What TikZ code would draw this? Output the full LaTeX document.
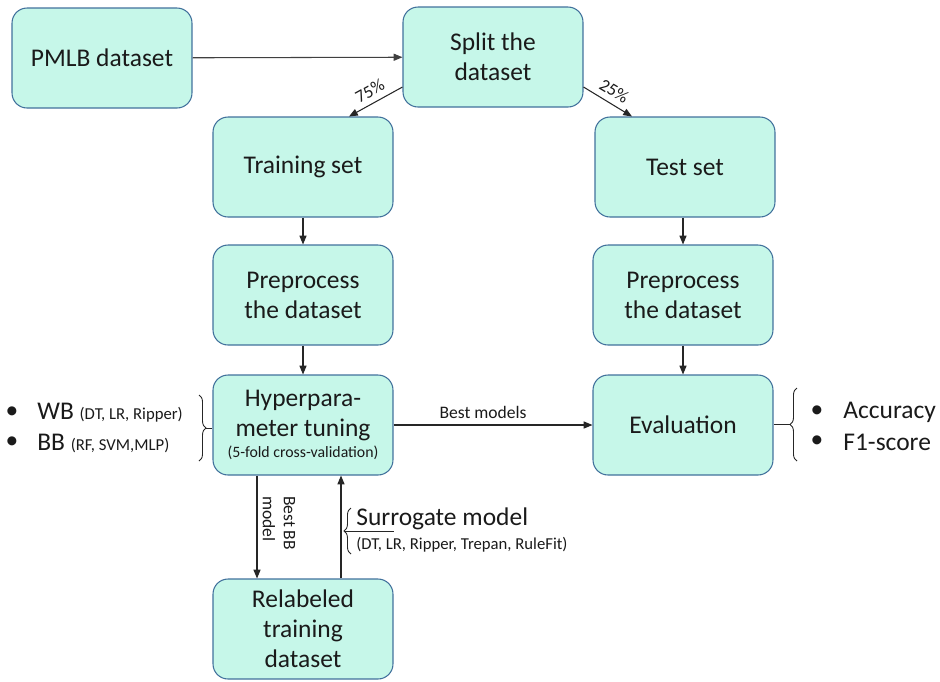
\documentclass[tikz,border=0pt]{standalone}
\usepackage{fontspec}
\setmainfont{Carlito}
\usetikzlibrary{arrows.meta,decorations.pathreplacing}
\definecolor{boxfill}{HTML}{C6F7E9}
\definecolor{boxline}{HTML}{41719C}
\definecolor{ink}{HTML}{1A1A1A}
\definecolor{arrowc}{HTML}{262626}

\begin{document}
\begin{tikzpicture}[
        x=0.02cm, y=-0.02cm,
        font=\fontsize{14.5}{17}\selectfont,
        text=ink
    ]
    \tikzset{
        box/.style = {rectangle, rounded corners=0.3cm, draw=boxline, fill=boxfill, line width=0.6pt,
                      minimum width=3.6cm, minimum height=2cm, align=center, inner sep=2pt},
        arr/.style = {-{Triangle[length=5pt,width=4pt]}, draw=arrowc, line width=0.6pt},
        lbl/.style = {font=\fontsize{10}{12}\selectfont},
        small/.style = {font=\fontsize{9.5}{11}\selectfont},
        brc/.style = {decorate, decoration={brace,amplitude=4pt}, draw=arrowc, line width=0.5pt},
    }
    \useasboundingbox (0,0) rectangle (940,681);
    % boxes
    \node[box] (pmlb) at (102,58) {PMLB dataset};
    \node[box] (split) at (493,57) {Split the\\dataset};
    \node[box] (train) at (303,167) {Training set};
    \node[box] (test) at (685,167) {Test set};
    \node[box] (prel) at (303,295) {Preprocess\\the dataset};
    \node[box] (prer) at (683,295) {Preprocess\\the dataset};
    \node[box] (hyper) at (303,425) {Hyperpara-\\meter tuning\\[-5pt]{\fontsize{9}{11}\selectfont (5-fold cross-validation)}};
    \node[box] (eval) at (683,425) {Evaluation};
    \node[box] (relab) at (303,629) {Relabeled\\training\\dataset};
    %
    \draw[arr, draw=gray!50!black] (pmlb) -- (split);
    \draw[arr] ([yshift=-0.6cm]split.west) -- node[lbl,above=0pt,sloped] {75\%} ([xshift=0.92cm]train.north);
    \draw[arr] ([yshift=-0.6cm]split.east) -- node[lbl,above=0pt,sloped] {25\%} ([xshift=-1.06cm]test.north);
    \draw[arr] (train) -- (prel);
    \draw[arr] (prel) -- (hyper);
    \draw[arr] (test.south -| prer) -- (prer);
    \draw[arr] (prer) -- (eval);
    \draw[arr] (hyper) -- node[lbl,above,pos=0.45] {Best models} (eval);
    %
    \draw[arr] ([xshift=-0.92cm]hyper.south) -- ([xshift=-0.92cm]relab.north);
    \draw[arr] ([xshift=0.76cm]relab.north) -- ([xshift=0.76cm]hyper.south);
    \node[lbl, rotate=-90, align=left] (bestbb) at (279,523) {Best BB\\model};
    %
    % surrogate models
    \node[anchor=west, inner sep=0pt] (sur) at (356,519) {Surrogate model};
    \node[small, anchor=west, inner sep=0pt] (surlist) at (356,545) {(DT, LR, Ripper, Trepan, RuleFit)};
    \draw[brc] (351,554) -- (351,508);
    \coordinate (surtip) at (344,531);
    \draw[draw=arrowc, line width=0.5pt] (surtip) -- (surtip -| relab.north east);
    %
    % model families
    \node[inner sep=0pt] (b1) at (12,413) {•};
    \node[inner sep=0pt] (b2) at (12,443) {•};
    \node[anchor=west, inner sep=0pt] (wb) at (37,413) {WB {\fontsize{9.5}{11}\selectfont (DT, LR, Ripper)}};
    \node[anchor=west, inner sep=0pt] (bb) at (37,443) {BB {\fontsize{9.5}{11}\selectfont (RF, SVM,MLP)}};
    \draw[brc] (199,395) -- (199,461);
    \coordinate (wbtip) at (206,428);
    \draw[draw=arrowc, line width=0.5pt] (wbtip) -- (wbtip -| hyper.west);
    %
    % metrics
    \node[inner sep=0pt] (b3) at (817,412) {•};
    \node[inner sep=0pt] (b4) at (817,442) {•};
    \node[anchor=west, inner sep=0pt] (acc) at (843,412) {Accuracy};
    \node[anchor=west, inner sep=0pt] (f1) at (843,442) {F1-score};
    \draw[brc] (797,461) -- (797,388);
    \coordinate (evtip) at (790,424);
    \draw[draw=arrowc, line width=0.5pt] (evtip) -- (evtip -| eval.east);
\end{tikzpicture}
\end{document}
